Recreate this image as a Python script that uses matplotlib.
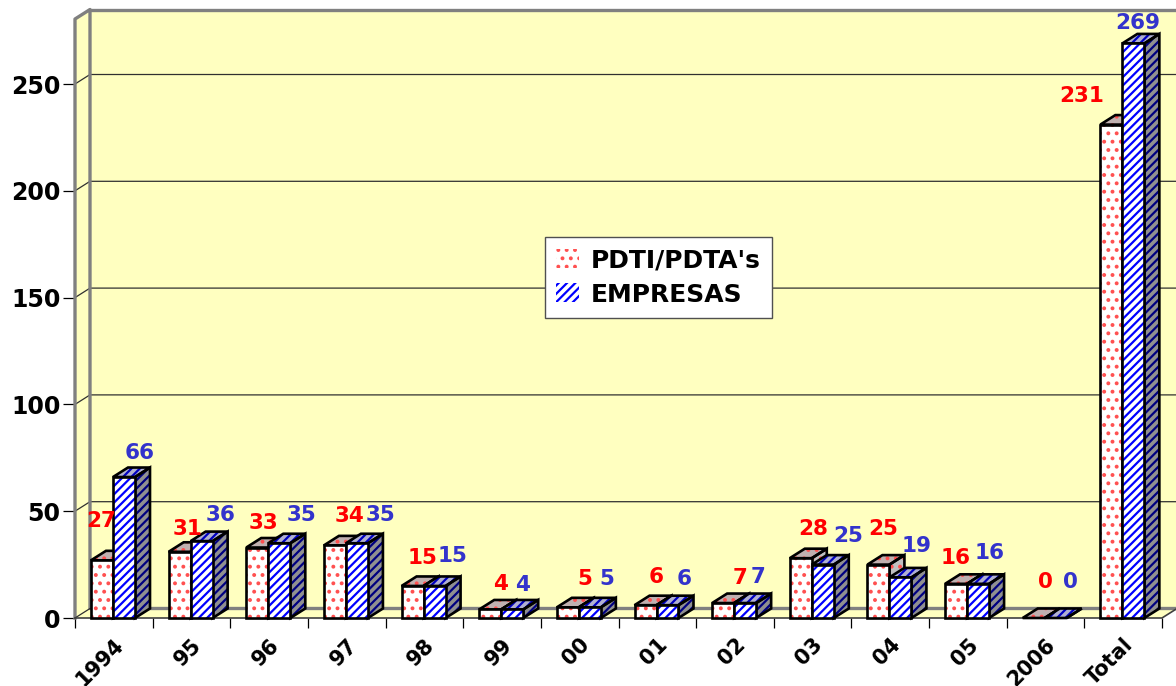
import matplotlib
matplotlib.use('Agg')
import matplotlib.pyplot as plt
from matplotlib.patches import Patch

categories = ['1994', '95', '96', '97', '98', '99', '00', '01', '02', '03', '04', '05', '2006', 'Total']
pdti = [27, 31, 33, 34, 15, 4, 5, 6, 7, 28, 25, 16, 0, 231]
empresas = [66, 36, 35, 35, 15, 4, 5, 6, 7, 25, 19, 16, 0, 269]

# label centres in picture pixels, they dont follow a fixed offset from the bars
pdti_label_px = [(101, 521), (188, 529), (264, 523), (350, 516), (422, 558), (501, 584), (585, 579),
                 (656, 577), (740, 578), (813, 529), (883, 529), (956, 558), (1045, 582), (1082, 96)]
emp_label_px = [(140, 453), (221, 515), (302, 515), (380, 515), (452, 556), (523, 585), (607, 579),
                (684, 579), (758, 577), (848, 536), (917, 546), (990, 553), (1070, 582), (1138, 23)]

W, H = 1176, 686
X0, X1, Y0, Y1 = 75, 1162, 618, 19
YMAX = (Y0 - Y1) / 2.136
DX = 15 / ((X1 - X0) / 14)   # depth of the fake 3d, in data units
DY = 9.5 / 2.136
BAR_W = 22 / ((X1 - X0) / 14)
BAR_OFF = 16 / ((X1 - X0) / 14)
WALL = '#FFFFC0'
EDGE = '#808080'
RED = '#FF0000'
BLUE = '#3333CC'

plt.rcParams['font.family'] = ['DejaVu Sans']
plt.rcParams['font.weight'] = 'bold'
plt.rcParams['hatch.linewidth'] = 1.6

fig = plt.figure(figsize=(W / 100, H / 100), dpi=100)
ax = fig.add_axes([X0 / W, (H - Y0) / H, (X1 - X0) / W, (Y0 - Y1) / H])
ax.set_xlim(0, 14)
ax.set_ylim(0, YMAX)
for s in ax.spines.values():
    s.set_visible(False)
ax.patch.set_visible(False)

# walls and floor
ax.fill([DX, 14 + DX, 14 + DX, DX], [DY, DY, YMAX + DY, YMAX + DY], color=WALL, clip_on=False, zorder=1, lw=0)
ax.fill([0, DX, DX, 0], [0, DY, YMAX + DY, YMAX], color=WALL, clip_on=False, zorder=1, lw=0)
ax.fill([0, 14, 14 + DX, DX], [0, 0, DY, DY], color=WALL, clip_on=False, zorder=1, lw=0)

for v in range(50, 300, 50):
    ax.plot([0, DX, 14 + DX], [v, v + DY, v + DY], color='#303030', lw=0.9, clip_on=False, zorder=2)

ax.plot([0, 0, DX, DX, 14 + DX], [0, YMAX, YMAX + DY, DY, DY], color=EDGE, lw=2.4, clip_on=False, zorder=2)
ax.plot([DX, 14 + DX], [YMAX + DY, YMAX + DY], color=EDGE, lw=2.4, clip_on=False, zorder=2)
ax.plot([0, DX], [0, DY], color='#303030', lw=0.9, clip_on=False, zorder=2)
ax.plot([0, 14, 14 + DX], [0, 0, DY], color='#404040', lw=1.2, clip_on=False, zorder=2)


def face(xs, ys, fc, hc, hatch, z):
    ax.fill(xs, ys, facecolor=fc, edgecolor=hc, hatch=hatch, lw=0, clip_on=False, zorder=z)
    ax.fill(xs, ys, fill=False, edgecolor='black', lw=1.9, clip_on=False, zorder=z + 0.1, joinstyle='miter')


def bar3d(x, v, front, hcolor, hatch, side, top, side_h, top_h, z):
    face([x + BAR_W, x + BAR_W + DX, x + BAR_W + DX, x + BAR_W], [0, DY, v + DY, v], side, side_h, hatch, z)
    face([x, x + BAR_W, x + BAR_W + DX, x + DX], [v, v, v + DY, v + DY], top, top_h, hatch, z)
    if v > 0:
        face([x, x + BAR_W, x + BAR_W, x], [0, 0, v, v], front, hcolor, hatch, z + 0.2)


for i in range(len(categories)):
    x = i + BAR_OFF
    bar3d(x, pdti[i], 'white', '#FF5050', '..', '#C0C0C0', '#C0B0B0', '#FF5050', '#FF5050', 3 + i)
    bar3d(x + BAR_W, empresas[i], 'white', '#0000FF', '////', '#909090', '#B0B0D0', '#000080', '#0000C0', 3.5 + i)

# ticks
ax.set_yticks(range(0, 300, 50))
ax.set_xticks(range(15))
ax.set_xticklabels([])
ax.set_xticks([i + 0.5 for i in range(14)], minor=True)
ax.set_xticklabels(categories, minor=True, rotation=45, ha='right', va='top', rotation_mode='anchor')
ax.tick_params(axis='y', length=8.6, width=0.9, labelsize=17, pad=2)
ax.tick_params(axis='x', which='major', length=7.5, width=0.9)
ax.tick_params(axis='x', which='minor', length=0, labelsize=15, pad=12)

for (px, py), v in zip(pdti_label_px, pdti):
    fig.text(px / W, 1 - py / H, str(v), color=RED, fontsize=15.5, ha='center', va='center', zorder=50)
for (px, py), v in zip(emp_label_px, empresas):
    fig.text(px / W, 1 - py / H, str(v), color=BLUE, fontsize=15.5, ha='center', va='center', zorder=50)

handles = [Patch(facecolor='white', edgecolor='#FF5050', hatch='..', lw=0),
           Patch(facecolor='white', edgecolor='#0000FF', hatch='////', lw=0)]
leg = fig.legend(handles, ["PDTI/PDTA's", 'EMPRESAS'], loc='center', fontsize=18,
                 bbox_to_anchor=(658.5 / W, 1 - 277.5 / H), fancybox=False, framealpha=1,
                 edgecolor='#505050', handlelength=0.9, handleheight=0.8, handletextpad=0.5,
                 borderpad=0.45, labelspacing=0.4)
leg.set_zorder(40)
leg.get_frame().set_linewidth(1)
for h in leg.get_patches():
    h.set_linewidth(0)

fig.savefig('out.png', dpi=100)
